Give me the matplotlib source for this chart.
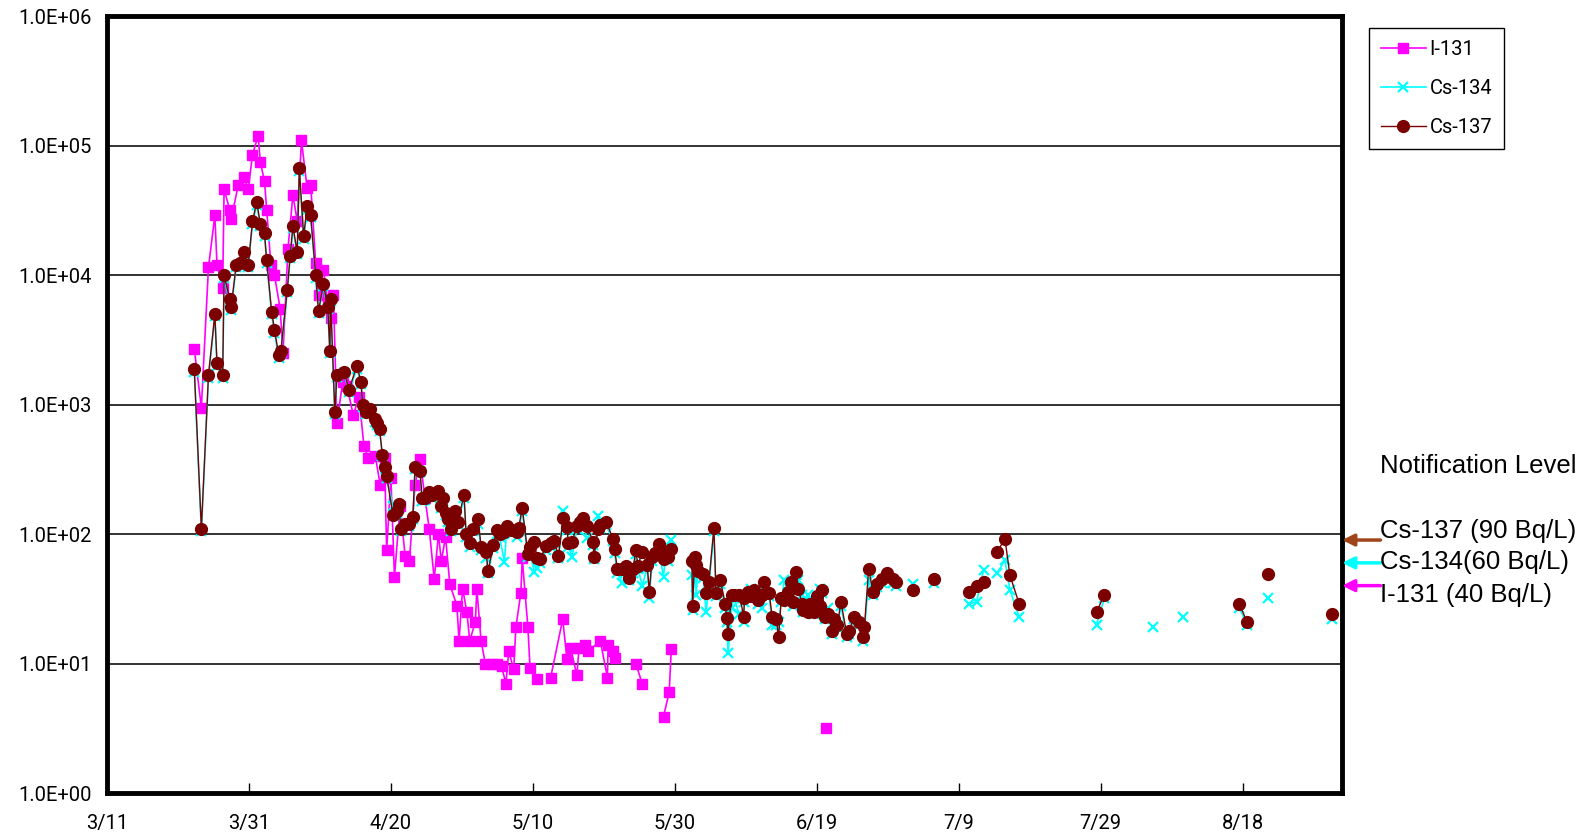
import numpy as np
import matplotlib.pyplot as plt
from matplotlib.ticker import FixedLocator, FixedFormatter, NullLocator

# days counted from 3/11
i131_day = [12.3, 13.3, 14.3, 15.2, 15.5, 16.3, 16.5, 17.3, 17.5, 18.5, 19.3, 19.9, 20.5, 21.3, 21.6,
            22.2, 22.5, 23.1, 23.6, 24.4, 24.8, 25.5, 26.2, 26.8, 27.4, 28.2, 28.7, 29.4, 29.8, 30.5,
            31.1, 31.5, 31.9, 32.4, 33.2, 33.8, 34.7, 35.5, 36.2, 36.8, 37.8, 38.5, 39.1, 39.4, 40.0,
            40.5, 41.3, 42.0, 42.6, 43.4, 44.1, 44.8, 45.4, 46.1, 46.7, 47.1, 47.7, 48.3, 49.3, 49.6,
            50.1, 50.7, 51.1, 51.9, 52.1, 52.7, 53.3, 54.2, 54.9, 55.6, 56.2, 56.6, 57.3, 57.6, 58.3,
            58.5, 59.3, 59.6, 60.6, 62.5, 64.2, 64.8, 65.3, 66.2, 66.5, 67.3, 67.8, 69.5, 70.5, 70.6,
            71.3, 71.5, 74.5, 75.4, 78.4, 79.2, 79.5, 101.3]
i131_val = [2700, 950, 11500, 29000, 12000, 8000, 46000, 32000, 27000, 50000, 57000, 46000, 85000, 120000, 75000,
            53000, 32000, 12000, 10000, 5500, 2500, 16000, 42000, 26000, 110000, 47000, 50000, 12500, 7000, 11000,
            6000, 4700, 7000, 720, 1500, 1400, 830, 1150, 480, 390, 400, 240, 390, 75, 270,
            47, 165, 68, 62, 240, 380, 190, 110, 45, 100, 62, 95, 41, 28, 15,
            38, 25, 15, 21, 38, 15, 10, 10, 10, 9.5, 7, 12.5, 9, 19, 35,
            65, 19, 9.2, 7.6, 7.8, 22, 10.8, 13.2, 8.1, 13.2, 14, 12.5, 15, 7.8, 14,
            12.5, 11, 10, 7, 3.9, 6, 13, 3.2]

cs137_day = [12.3, 13.3, 14.3, 15.2, 15.5, 16.3, 16.5, 17.3, 17.5, 18.2, 18.8, 19.3, 19.9, 20.5, 21.1,
             21.6, 22.2, 22.5, 23.2, 23.6, 24.2, 24.5, 25.4, 25.8, 26.2, 26.8, 27.1, 27.7, 28.2, 28.7,
             29.4, 29.8, 30.5, 31.1, 31.4, 31.5, 32.1, 32.4, 33.4, 34.1, 35.2, 35.8, 36.0, 36.5, 37.1,
             37.7, 38.1, 38.4, 38.8, 39.1, 39.4, 40.3, 40.8, 41.1, 41.4, 42.0, 42.6, 43.1, 43.4, 44.1,
             44.4, 44.8, 45.3, 45.8, 46.6, 47.0, 47.3, 47.7, 48.1, 48.4, 49.0, 49.4, 50.3, 50.6, 51.1,
             51.6, 52.3, 52.7, 53.4, 53.7, 54.4, 54.9, 55.3, 56.0, 56.3, 57.0, 57.7, 58.0, 58.5, 59.3,
             59.6, 60.2, 60.6, 61.0, 61.9, 62.5, 63.0, 63.6, 64.3, 64.8, 65.0, 65.5, 66.2, 66.6, 67.1,
             67.6, 68.5, 68.6, 69.2, 69.5, 70.3, 71.3, 71.5, 71.9, 72.6, 73.1, 73.5, 74.1, 74.5, 74.8,
             75.4, 76.1, 76.4, 76.8, 77.2, 77.7, 78.4, 78.7, 79.1, 79.5, 82.4, 82.5, 82.8, 83.0, 83.2,
             84.0, 84.4, 84.8, 85.5, 85.8, 86.4, 87.1, 87.3, 87.5, 88.0, 88.3, 89.1, 89.7, 89.8, 90.3,
             90.7, 91.1, 91.7, 92.3, 92.6, 93.3, 93.7, 94.3, 94.6, 95.0, 95.4, 96.0, 96.4, 96.6, 97.1,
             97.4, 97.9, 98.1, 98.7, 99.0, 99.6, 100.0, 100.4, 100.7, 101.2, 101.6, 102.2, 102.4, 102.9, 103.4,
             104.2, 104.6, 105.2, 105.9, 106.5, 106.7, 107.3, 107.9, 108.5, 109.2, 109.9, 110.7, 111.2, 113.5, 116.5,
             121.5, 122.5, 123.5, 125.4, 126.5, 127.2, 128.5, 139.4, 140.5, 159.5, 160.6, 163.5, 172.6]
cs137_val = [1900, 110, 1700, 5000, 2100, 1700, 10000, 6500, 5700, 12000, 12500, 15000, 12000, 26000, 37000,
             25000, 21000, 13000, 5200, 3800, 2400, 2600, 7700, 14000, 24000, 15000, 67000, 20000, 34000, 29000,
             10000, 5300, 8500, 5700, 2600, 6600, 870, 1700, 1800, 1300, 2000, 1500, 1000, 870, 930,
             770, 720, 650, 410, 330, 280, 140, 150, 170, 110, 120, 120, 135, 330, 310,
             190, 190, 210, 200, 215, 165, 190, 145, 130, 110, 150, 125, 200, 100, 85,
             110, 130, 80, 73, 52, 82, 107, 100, 104, 116, 107, 104, 112, 160, 70,
             80, 87, 65, 64, 81, 85, 89, 68, 134, 113, 85, 87, 116, 125, 134,
             116, 87, 67, 110, 118, 125, 92, 77, 54, 54, 57, 46, 54, 75, 57,
             73, 58, 36, 66, 71, 84, 64, 73, 66, 77, 62, 28, 66, 58, 52,
             49, 35, 43, 112, 35, 44, 29, 22.5, 17, 34, 34, 34, 23, 32, 36,
             33, 37, 31, 34, 43, 35, 23, 22, 16, 32, 31, 36, 43, 30, 51,
             38, 29, 26, 25, 29, 25, 33, 28, 37, 23, 24, 18, 22, 20, 30,
             17, 18, 23, 21, 16, 19, 54, 36, 41, 45, 50, 45, 43, 37, 45,
             36, 40, 43, 73, 92, 48, 29, 25, 34, 29, 21, 49, 24]

cs134_day = [12.3, 13.3, 14.3, 15.2, 15.5, 16.3, 16.5, 17.3, 17.5, 18.2, 18.8, 19.3, 19.9, 20.5, 21.1,
             21.6, 22.2, 22.5, 23.2, 23.6, 24.2, 24.5, 25.4, 25.8, 26.2, 26.8, 27.1, 27.7, 28.2, 28.7,
             29.4, 29.8, 30.5, 31.1, 31.4, 31.5, 32.1, 32.4, 33.4, 34.1, 35.2, 35.8, 36.0, 36.5, 37.1,
             37.7, 38.1, 38.4, 38.8, 39.1, 39.4, 40.3, 40.8, 41.1, 41.4, 42.0, 42.6, 43.1, 43.4, 44.1,
             44.4, 44.8, 45.3, 45.8, 46.6, 47.0, 47.3, 47.7, 48.1, 48.4, 49.0, 49.4, 50.3, 50.6, 51.1,
             51.6, 52.3, 52.7, 53.4, 53.7, 54.4, 54.9, 55.3, 56.0, 56.3, 57.0, 57.7, 58.0, 58.5, 59.3,
             59.6, 60.2, 60.6, 61.0, 61.9, 62.5, 63.0, 63.6, 64.3, 64.8, 65.0, 65.5, 66.2, 66.6, 67.1,
             67.6, 68.5, 68.6, 69.2, 69.5, 70.3, 71.3, 71.5, 71.9, 72.6, 73.1, 73.5, 74.1, 74.5, 74.8,
             75.4, 76.1, 76.4, 76.8, 77.2, 77.7, 78.4, 78.7, 79.1, 79.5, 82.4, 82.5, 82.8, 83.0, 83.2,
             84.0, 84.4, 84.8, 85.5, 85.8, 86.4, 87.1, 87.3, 87.5, 88.0, 88.3, 89.1, 89.7, 89.8, 90.3,
             90.7, 91.1, 91.7, 92.3, 92.6, 93.3, 93.7, 94.3, 94.6, 95.0, 95.4, 96.0, 96.4, 96.6, 97.1,
             97.4, 97.9, 98.1, 98.7, 99.0, 99.6, 100.0, 100.4, 100.7, 101.2, 101.6, 102.2, 102.4, 102.9, 103.4,
             104.2, 104.6, 105.2, 105.9, 106.5, 106.7, 107.3, 107.9, 108.5, 109.2, 109.9, 110.7, 111.2, 113.5, 116.5,
             121.5, 122.5, 123.5, 125.4, 126.5, 127.2, 128.5, 139.4, 140.5, 147.4, 151.6, 159.5, 160.6, 163.5, 172.6]
cs134_val = [1800, 105, 1600, 4800, 2000, 1600, 9500, 6200, 5400, 11500, 12000, 14000, 11500, 25000, 35000,
             24000, 20000, 12500, 5000, 3600, 2300, 2500, 7400, 13500, 23000, 14500, 64000, 19000, 32000, 28000,
             9500, 5100, 8200, 5500, 2500, 6300, 840, 1650, 1750, 1250, 1900, 1450, 960, 840, 900,
             740, 700, 630, 400, 320, 270, 165, 145, 160, 105, 118, 115, 130, 320, 300,
             180, 185, 200, 190, 205, 160, 180, 140, 125, 105, 140, 120, 190, 95, 80,
             105, 120, 75, 65, 50, 78, 100, 95, 61, 110, 100, 95, 105, 150, 66,
             75, 51, 55, 60, 75, 80, 85, 65, 150, 108, 80, 67, 110, 120, 125,
             93, 82, 64, 137, 112, 118, 88, 72, 50, 42, 52, 44, 50, 70, 54,
             40, 55, 32, 62, 66, 78, 47, 68, 62, 90, 48, 26, 60, 34, 48,
             46, 25, 40, 105, 33, 41, 27, 21, 12, 27, 32, 24, 21, 30, 34,
             38, 35, 29, 27, 40, 33, 20, 20, 21, 30, 44, 34, 40, 28, 48,
             44, 34, 25, 34, 27, 24, 31, 38, 35, 22, 27, 17, 21, 19, 28,
             16, 17, 22, 20, 15, 18, 44, 34, 39, 42, 47, 42, 40, 41, 42,
             29, 30, 53, 50, 63, 37, 23, 20, 32, 19, 23, 27, 20, 32, 22]

xtick_days = [0, 20, 40, 60, 80, 100, 120, 140, 160]
xtick_labels = ['3/11', '3/31', '4/20', '5/10', '5/30', '6/19', '7/9', '7/29', '8/18']
ytick_vals = [1, 10, 100, 1000, 10000, 100000, 1000000]
ytick_labels = ['1.0E+00', '1.0E+01', '1.0E+02', '1.0E+03', '1.0E+04', '1.0E+05', '1.0E+06']

levels = [('Cs-137 (90 Bq/L)', 90, '#A0441A'), ('Cs-134(60 Bq/L)', 60, '#00FFFF'), ('I-131 (40 Bq/L)', 40, '#FF00FF')]


def gapped(days, vals, maxgap=1.8):
    # break the line where samples are missing
    xs, ys = [], []
    for k in range(len(days)):
        if k > 0 and days[k] - days[k - 1] > maxgap:
            xs.append(np.nan)
            ys.append(np.nan)
        xs.append(days[k])
        ys.append(vals[k])
    return xs, ys


narrow = ['Roboto', 'DejaVu Sans']

fig = plt.figure(figsize=(15.94, 8.36), dpi=100)
ax = fig.add_axes([0.0671, 0.0514, 0.7749, 0.9291])

x, y = gapped(i131_day, i131_val)
ax.plot(x, y, color='#FF00FF', lw=1.2, marker='s', ms=7.5, mfc='#FF00FF', mec='#FF00FF', label='I-131', zorder=3)
x, y = gapped(cs134_day, cs134_val)
ax.plot(x, y, color='#00FFFF', lw=1.2, marker='x', ms=7, mew=1.6, label='Cs-134', zorder=4)
x, y = gapped(cs137_day, cs137_val)
ax.plot(x, y, color='#7B0000', lw=1.0, marker='o', ms=8.5, mfc='#7B0000', mec='#7B0000', label='Cs-137', zorder=5)

ax.set_yscale('log')
ax.set_ylim(1, 1e6)
ax.set_xlim(0, 174)
ax.yaxis.set_major_locator(FixedLocator(ytick_vals))
ax.yaxis.set_major_formatter(FixedFormatter(ytick_labels))
ax.yaxis.set_minor_locator(NullLocator())
ax.set_xticks(xtick_days)
ax.set_xticklabels(xtick_labels)
for lab in ax.get_xticklabels() + ax.get_yticklabels():
    lab.set_family(narrow)
    lab.set_fontsize(14.5)
ax.tick_params(axis='y', length=0, pad=11)
ax.tick_params(axis='x', direction='in', length=7, width=1, pad=15)
for yv in ytick_vals[1:-1]:
    ax.axhline(yv, color='#222222', lw=1.3, zorder=1)
for s in ax.spines.values():
    s.set_linewidth(3.5)

leg = fig.legend(loc='upper left', bbox_to_anchor=(0.859, 0.9665), borderaxespad=0, frameon=True,
                 fancybox=False, edgecolor='black', framealpha=1, prop={'family': narrow, 'size': 14.5},
                 labelspacing=1.0, handlelength=2.2, handletextpad=0.2, borderpad=0.6)
leg.get_frame().set_linewidth(1.0)

fig.text(0.8655, 0.442, 'Notification Level', fontsize=18.5, family='Liberation Sans', va='center')
tr = ax.get_yaxis_transform()
label_y = [0.365, 0.3275, 0.2886]
for (txt, lv, col), ly in zip(levels, label_y):
    fig.text(0.8655, ly, txt, fontsize=18.5, family='Liberation Sans', va='center')
    ax.annotate('', xy=(1.0, lv), xycoords=tr, xytext=(1.031, lv), textcoords=tr,
                arrowprops=dict(arrowstyle='-|>,head_length=0.7,head_width=0.35', color=col, lw=2.5,
                                shrinkA=0, shrinkB=0), annotation_clip=False)

fig.savefig('out.png', dpi=100)
